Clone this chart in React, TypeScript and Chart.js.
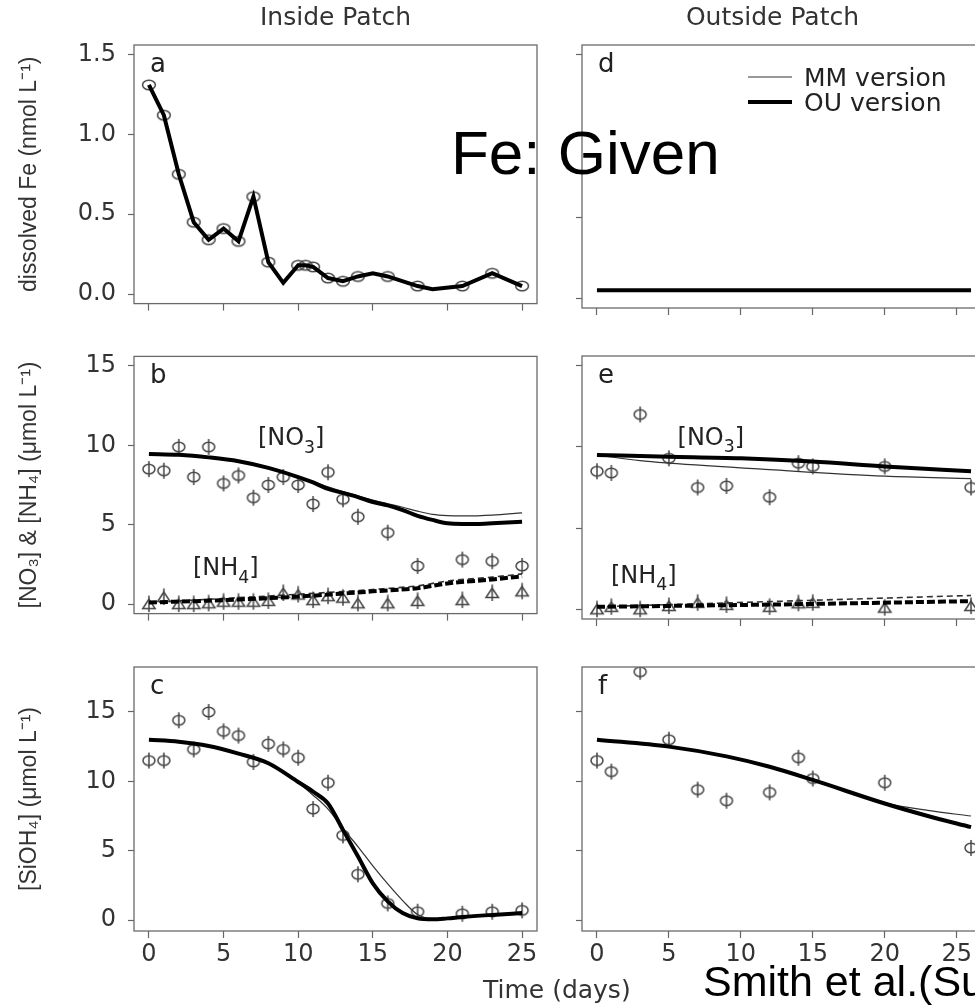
import React, { useEffect, useRef } from "react";
import { Chart, registerables } from "chart.js";

Chart.register(...registerables);

const SANS = '"DejaVu Sans", sans-serif';
const HELV = '"Liberation Sans", Arial, sans-serif';

// ---------------- tick values ----------------
const dayTicks = [0, 5, 10, 15, 20, 25];
const feTicks = [0, 0.5, 1.0, 1.5];
const nutTicks = [0, 5, 10, 15];
const siTicks = [0, 5, 10, 15];

// ---------------- texts ----------------
const columnTitles = ["Inside Patch", "Outside Patch"];
const panelLetters = ["a", "d", "b", "e", "c", "f"];
const yTitles = ["dissolved Fe (nmol L⁻¹)", "[NO₃] & [NH₄] (μmol L⁻¹)", "[SiOH₄] (μmol L⁻¹)"];
const legendNames = ["MM version", "OU version"];

// ---------------- (a) dissolved Fe, inside patch ----------------
const feInObsDays = [0, 1, 2, 3, 4, 5, 6, 7, 8, 10, 10.5, 11, 12, 13, 14, 16, 18, 21, 23, 25];
const feInObsVals = [1.31, 1.12, 0.75, 0.45, 0.34, 0.41, 0.33, 0.61, 0.2, 0.18, 0.18, 0.17, 0.1, 0.08, 0.11, 0.11, 0.05, 0.05, 0.13, 0.05];
const feInLineDays = [0, 1, 2, 3, 4, 5, 6, 7, 8, 9, 10, 10.5, 11, 12, 13, 14, 15, 16, 18, 19, 21, 23, 25];
const feInLineVals = [1.31, 1.12, 0.75, 0.45, 0.34, 0.41, 0.33, 0.61, 0.2, 0.07, 0.18, 0.18, 0.17, 0.1, 0.08, 0.11, 0.13, 0.11, 0.05, 0.03, 0.05, 0.13, 0.05];

// ---------------- (d) dissolved Fe, outside patch ----------------
const feOutDays = [0, 26];
const feOutVals = [0.05, 0.05];

// ---------------- (b) NO3 / NH4, inside patch ----------------
const nutInObsDays = [0, 1, 2, 3, 4, 5, 6, 7, 8, 9, 10, 11, 12, 13, 14, 16, 18, 21, 23, 25];
const no3InObsVals = [8.5, 8.4, 9.9, 8.0, 9.9, 7.6, 8.1, 6.7, 7.5, 8.0, 7.5, 6.3, 8.3, 6.6, 5.5, 4.5, 2.4, 2.8, 2.7, 2.4];
const nh4InObsVals = [0.0, 0.45, 0.0, 0.0, 0.05, 0.15, 0.15, 0.15, 0.2, 0.7, 0.6, 0.25, 0.5, 0.4, 0.05, 0.05, 0.2, 0.25, 0.7, 0.8];
const no3InModelDays = [0, 2, 4, 6, 8, 10, 11, 12, 13, 14, 15, 16, 17, 18, 19, 20, 21, 22, 23, 25];
const no3InOU = [9.46, 9.4, 9.24, 9.0, 8.58, 8.0, 7.66, 7.25, 7.0, 6.74, 6.43, 6.22, 5.92, 5.56, 5.3, 5.09, 5.05, 5.05, 5.09, 5.19];
const no3InMM = [9.46, 9.38, 9.2, 8.95, 8.55, 8.02, 7.72, 7.38, 7.08, 6.82, 6.55, 6.32, 6.1, 5.85, 5.65, 5.57, 5.55, 5.56, 5.6, 5.75];
const nh4InModelDays = [0, 5, 10, 15, 18, 20, 23, 25];
const nh4InOU = [0.1, 0.25, 0.47, 0.8, 1.0, 1.3, 1.55, 1.75];
const nh4InMM = [0.1, 0.35, 0.62, 0.92, 1.15, 1.45, 1.7, 1.9];

// ---------------- (e) NO3 / NH4, outside patch ----------------
const nutOutObsDays = [0, 1, 3, 5, 7, 9, 12, 14, 15, 20, 26];
const no3OutObsVals = [8.5, 8.4, 12.0, 9.3, 7.5, 7.6, 6.9, 9.0, 8.8, 8.8, 7.5];
const nh4OutObsVals = [0.0, 0.15, 0.0, 0.2, 0.4, 0.27, 0.15, 0.37, 0.4, 0.1, 0.2];
const no3OutOUDays = [0, 5, 10, 15, 20, 26];
const no3OutOU = [9.5, 9.4, 9.3, 9.1, 8.8, 8.5];
const no3OutMMDays = [0, 3, 5, 12, 20, 26];
const no3OutMM = [9.5, 9.15, 9.0, 8.6, 8.2, 8.05];
const nh4OutModelDays = [0, 13, 26];
const nh4OutOU = [0.15, 0.3, 0.5];
const nh4OutMM = [0.15, 0.5, 0.85];

// ---------------- (c) Si, inside patch ----------------
const siInObsDays = [0, 1, 2, 3, 4, 5, 6, 7, 8, 9, 10, 11, 12, 13, 14, 16, 18, 21, 23, 25];
const siInObsVals = [11.5, 11.5, 14.4, 12.3, 15.0, 13.6, 13.3, 11.4, 12.7, 12.3, 11.7, 8.0, 9.9, 6.1, 3.3, 1.2, 0.6, 0.45, 0.6, 0.7];
const siInModelDays = [0, 2, 4, 6, 8, 10, 11, 12, 13, 14, 15, 16, 17, 18, 19, 20, 21, 23, 25];
const siInOU = [13.0, 12.86, 12.55, 12.0, 11.3, 9.95, 9.25, 8.4, 6.5, 4.6, 2.65, 1.35, 0.5, 0.12, 0.05, 0.12, 0.22, 0.37, 0.5];
const siInMM = [13.0, 12.85, 12.55, 12.0, 11.3, 9.9, 9.0, 8.0, 6.6, 5.3, 3.9, 2.6, 1.4, 0.4, 0.1, 0.12, 0.22, 0.37, 0.5];

// ---------------- (f) Si, outside patch ----------------
const siOutObsDays = [0, 1, 3, 5, 7, 9, 12, 14, 15, 20, 26];
const siOutObsVals = [11.5, 10.7, 17.9, 13.0, 9.4, 8.6, 9.2, 11.7, 10.2, 9.9, 5.2];
const siOutModelDays = [0, 5, 9, 12, 15, 20, 23, 26];
const siOutOU = [13.0, 12.5, 11.8, 11.05, 10.1, 8.4, 7.5, 6.7];
const siOutMM = [13.0, 12.5, 11.8, 11.05, 10.1, 8.45, 7.9, 7.5];

// ---------------- helpers ----------------
const zip = (xs: number[], ys: number[]) => xs.map((x, i) => ({ x, y: ys[i] }));

const MARK = "#444";
const markerCache: Record<string, HTMLCanvasElement> = {};
function marker(kind: "circle" | "phi" | "tri"): HTMLCanvasElement {
  if (markerCache[kind]) return markerCache[kind];
  const c = document.createElement("canvas");
  c.width = 18;
  c.height = 20;
  const ctx = c.getContext("2d")!;
  ctx.strokeStyle = MARK;
  ctx.lineWidth = 1.5;
  const cx = 9, cy = 10;
  if (kind === "circle") {
    ctx.beginPath();
    ctx.ellipse(cx, cy, 6.4, 4.8, 0, 0, Math.PI * 2);
    ctx.stroke();
  } else if (kind === "phi") {
    ctx.beginPath();
    ctx.ellipse(cx, cy, 6.0, 4.8, 0, 0, Math.PI * 2);
    ctx.stroke();
    ctx.beginPath();
    ctx.moveTo(cx, cy - 8);
    ctx.lineTo(cx, cy + 8);
    ctx.stroke();
  } else {
    ctx.beginPath();
    ctx.moveTo(cx, cy - 5);
    ctx.lineTo(cx - 6.2, cy + 4.5);
    ctx.lineTo(cx + 6.2, cy + 4.5);
    ctx.closePath();
    ctx.stroke();
    ctx.beginPath();
    ctx.moveTo(cx, cy - 8.5);
    ctx.lineTo(cx, cy + 8);
    ctx.stroke();
  }
  markerCache[kind] = c;
  return c;
}

const thickLine = (data: any[], smooth = true, dash: number[] = []) => ({
  data,
  borderColor: "#000",
  borderWidth: 4,
  borderDash: dash,
  pointRadius: 0,
  fill: false,
  tension: 0,
  cubicInterpolationMode: smooth ? "monotone" : "default",
});
const thinLine = (data: any[], dash: number[] = [], width = 1.2) => ({
  data,
  borderColor: "#333",
  borderWidth: width,
  borderDash: dash,
  pointRadius: 0,
  fill: false,
  tension: 0,
  cubicInterpolationMode: "monotone",
});
const pointSet = (data: any[], kind: "circle" | "phi" | "tri") => ({
  data,
  showLine: false,
  pointStyle: marker(kind),
  pointRadius: 6,
  borderColor: MARK,
  backgroundColor: "transparent",
  clip: 0,
});

// ---------------- layout frames ----------------
const COLS = [
  { left: 0, width: 559, yAxisW: 134, padR: 22, xMin: -1, xMax: 26 },
  { left: 559, width: 432, yAxisW: 23, padR: 5, xMin: -1.04, xMax: 27.04 },
];
const ROWS = [
  { top: 0, height: 330, padT: 0, xAxisH: 22, yMin: -0.06, yMax: 1.56 },
  { top: 330, height: 310, padT: 26, xAxisH: 21, yMin: -0.6, yMax: 15.6 },
  { top: 640, height: 365, padT: 27, xAxisH: 74, yMin: -0.79, yMax: 18.24 },
];

type RichPart = [string, boolean];
interface Label { x: number; y: number; parts: RichPart[] }
interface DecorCfg { letter: string; labels?: Label[]; legend?: boolean }

function drawRich(ctx: CanvasRenderingContext2D, parts: RichPart[], x: number, y: number, size: number) {
  let cx = x;
  for (const [t, sub] of parts) {
    const fs = sub ? size * 0.72 : size;
    ctx.font = `${fs}px ${SANS}`;
    ctx.fillText(t, cx, sub ? y + size * 0.3 : y);
    cx += ctx.measureText(t).width;
  }
}

function makeDecor(cfg: DecorCfg) {
  return {
    id: "decor",
    afterDraw(chart: any) {
      const { ctx, chartArea: a, scales } = chart;
      ctx.save();
      ctx.strokeStyle = "#6a6a6a";
      ctx.lineWidth = 1.3;
      ctx.strokeRect(a.left, a.top, a.right - a.left, a.bottom - a.top);
      ctx.fillStyle = "#222";
      ctx.textAlign = "left";
      ctx.textBaseline = "alphabetic";
      ctx.font = `26px ${SANS}`;
      ctx.fillText(cfg.letter, a.left + 16, a.top + 27);
      ctx.fillStyle = "#222";
      for (const l of cfg.labels || []) {
        const px = scales.x.getPixelForValue(l.x);
        const py = scales.y.getPixelForValue(l.y);
        drawRich(ctx, l.parts, px, py, 24);
      }
      if (cfg.legend) {
        const x0 = a.left + 166, x1 = a.left + 210;
        const rows = [
          { y: a.top + 32, w: 1.2, c: "#333" },
          { y: a.top + 57, w: 4, c: "#000" },
        ];
        rows.forEach((r, i) => {
          ctx.strokeStyle = r.c;
          ctx.lineWidth = r.w;
          ctx.beginPath();
          ctx.moveTo(x0, r.y);
          ctx.lineTo(x1, r.y);
          ctx.stroke();
          ctx.font = `25px ${SANS}`;
          ctx.fillStyle = "#222";
          ctx.fillText(legendNames[i], a.left + 222, r.y + 9);
        });
      }
      ctx.restore();
    },
  };
}

interface Spec {
  row: number;
  col: number;
  yTicks: number[];
  yFmt: (v: number) => string;
  datasets: any[];
  decor: DecorCfg;
}

function buildSpecs(): Spec[] {
  const one = (v: number) => v.toFixed(1);
  const int = (v: number) => String(v);
  return [
    {
      row: 0, col: 0, yTicks: feTicks, yFmt: one,
      datasets: [
        thickLine(zip(feInLineDays, feInLineVals), false),
        pointSet(zip(feInObsDays, feInObsVals), "circle"),
      ],
      decor: { letter: panelLetters[0] },
    },
    {
      row: 0, col: 1, yTicks: feTicks, yFmt: one,
      datasets: [
        thickLine(zip(feOutDays, feOutVals), false),
        thinLine(zip(feOutDays, feOutVals)),
      ],
      decor: { letter: panelLetters[1], legend: true },
    },
    {
      row: 1, col: 0, yTicks: nutTicks, yFmt: int,
      datasets: [
        thickLine(zip(no3InModelDays, no3InOU)),
        thinLine(zip(no3InModelDays, no3InMM)),
        thickLine(zip(nh4InModelDays, nh4InOU), true, [8, 3]),
        thinLine(zip(nh4InModelDays, nh4InMM), [6, 4], 1.6),
        pointSet(zip(nutInObsDays, no3InObsVals), "phi"),
        pointSet(zip(nutInObsDays, nh4InObsVals), "tri"),
      ],
      decor: {
        letter: panelLetters[2],
        labels: [
          { x: 7.3, y: 10.0, parts: [["[NO", false], ["3", true], ["]", false]] },
          { x: 2.95, y: 1.8, parts: [["[NH", false], ["4", true], ["]", false]] },
        ],
      },
    },
    {
      row: 1, col: 1, yTicks: nutTicks, yFmt: int,
      datasets: [
        thickLine(zip(no3OutOUDays, no3OutOU)),
        thinLine(zip(no3OutMMDays, no3OutMM)),
        thickLine(zip(nh4OutModelDays, nh4OutOU), true, [8, 3]),
        thinLine(zip(nh4OutModelDays, nh4OutMM), [6, 4], 1.6),
        pointSet(zip(nutOutObsDays, no3OutObsVals), "phi"),
        pointSet(zip(nutOutObsDays, nh4OutObsVals), "tri"),
      ],
      decor: {
        letter: panelLetters[3],
        labels: [
          { x: 5.6, y: 10.1, parts: [["[NO", false], ["3", true], ["]", false]] },
          { x: 0.97, y: 1.6, parts: [["[NH", false], ["4", true], ["]", false]] },
        ],
      },
    },
    {
      row: 2, col: 0, yTicks: siTicks, yFmt: int,
      datasets: [
        thickLine(zip(siInModelDays, siInOU)),
        thinLine(zip(siInModelDays, siInMM)),
        pointSet(zip(siInObsDays, siInObsVals), "phi"),
      ],
      decor: { letter: panelLetters[4] },
    },
    {
      row: 2, col: 1, yTicks: siTicks, yFmt: int,
      datasets: [
        thickLine(zip(siOutModelDays, siOutOU)),
        thinLine(zip(siOutModelDays, siOutMM)),
        pointSet(zip(siOutObsDays, siOutObsVals), "phi"),
      ],
      decor: { letter: panelLetters[5] },
    },
  ];
}

function buildChart(canvas: HTMLCanvasElement, s: Spec): Chart {
  const C = COLS[s.col];
  const R = ROWS[s.row];
  const isLeft = s.col === 0;
  const isTop = s.row === 0;
  const isBottom = s.row === 2;
  return new Chart(canvas, {
    type: "line",
    data: { datasets: s.datasets },
    options: {
      responsive: false,
      maintainAspectRatio: false,
      animation: false,
      devicePixelRatio: 1,
      events: [],
      layout: { autoPadding: false, padding: { top: R.padT, left: 0, right: C.padR, bottom: 0 } },
      plugins: {
        legend: { display: false },
        tooltip: { enabled: false },
        title: {
          display: isTop,
          text: columnTitles[s.col],
          fullSize: !isLeft,
          align: "center",
          color: "#333",
          font: { family: SANS, size: 25, weight: "normal" },
          padding: { top: 3, bottom: 12 },
        },
      },
      scales: {
        x: {
          type: "linear",
          min: C.xMin,
          max: C.xMax,
          afterBuildTicks: (sc: any) => {
            sc.ticks = dayTicks.map((v) => ({ value: v }));
          },
          afterFit: (sc: any) => {
            sc.height = R.xAxisH;
          },
          grid: { display: true, drawOnChartArea: false, drawTicks: true, tickLength: 7, tickColor: "#666", tickWidth: 1.2 },
          border: { display: false },
          ticks: {
            display: isBottom,
            padding: 2,
            color: "#333",
            autoSkip: false,
            maxRotation: 0,
            minRotation: 0,
            font: { family: SANS, size: 24 },
            callback: (v: any) => String(v),
          },
        },
        y: {
          type: "linear",
          min: R.yMin,
          max: R.yMax,
          afterBuildTicks: (sc: any) => {
            sc.ticks = s.yTicks.map((v) => ({ value: v }));
          },
          afterFit: (sc: any) => {
            sc.width = C.yAxisW;
          },
          grid: { display: true, drawOnChartArea: false, drawTicks: true, tickLength: 6, tickColor: "#666", tickWidth: 1.2 },
          border: { display: false },
          ticks: {
            display: isLeft,
            padding: 12,
            color: "#333",
            autoSkip: false,
            font: { family: SANS, size: 24 },
            callback: (v: any) => s.yFmt(Number(v)),
          },
          title: {
            display: isLeft,
            text: yTitles[s.row],
            color: "#333",
            font: { family: HELV, size: 23 },
            padding: { top: 16, bottom: 0 },
          },
        },
      },
    } as any,
    plugins: [makeDecor(s.decor)],
  });
}

const FRAMES = [
  [0, 0], [0, 1], [1, 0], [1, 1], [2, 0], [2, 1],
].map(([r, c]) => ({
  left: COLS[c].left,
  top: ROWS[r].top,
  width: COLS[c].width,
  height: ROWS[r].height,
}));

export default function App() {
  const refs = useRef<(HTMLCanvasElement | null)[]>([]);

  useEffect(() => {
    const specs = buildSpecs();
    const charts = specs.map((s, i) => buildChart(refs.current[i] as HTMLCanvasElement, s));
    return () => charts.forEach((c) => c.destroy());
  }, []);

  return (
    <div
      style={{
        position: "absolute",
        left: 0,
        top: 0,
        width: 975,
        height: 1005,
        overflow: "hidden",
        background: "#fff",
      }}
    >
      {FRAMES.map((f, i) => (
        <canvas
          key={i}
          ref={(el) => {
            refs.current[i] = el;
          }}
          width={f.width}
          height={f.height}
          style={{ position: "absolute", left: f.left, top: f.top, width: f.width, height: f.height }}
        />
      ))}
      <div
        style={{
          position: "absolute",
          left: 483,
          top: 977,
          fontFamily: SANS,
          fontSize: 25,
          lineHeight: "25px",
          color: "#333",
          whiteSpace: "nowrap",
        }}
      >
        Time (days)
      </div>
      <div
        style={{
          position: "absolute",
          left: 451,
          top: 122,
          fontFamily: HELV,
          fontSize: 62,
          lineHeight: "62px",
          color: "#000",
          whiteSpace: "nowrap",
        }}
      >
        Fe: Given
      </div>
      <div
        style={{
          position: "absolute",
          left: 703,
          top: 960,
          fontFamily: HELV,
          fontSize: 43,
          lineHeight: "43px",
          color: "#000",
          whiteSpace: "nowrap",
        }}
      >
        Smith et al.(Su
      </div>
    </div>
  );
}
